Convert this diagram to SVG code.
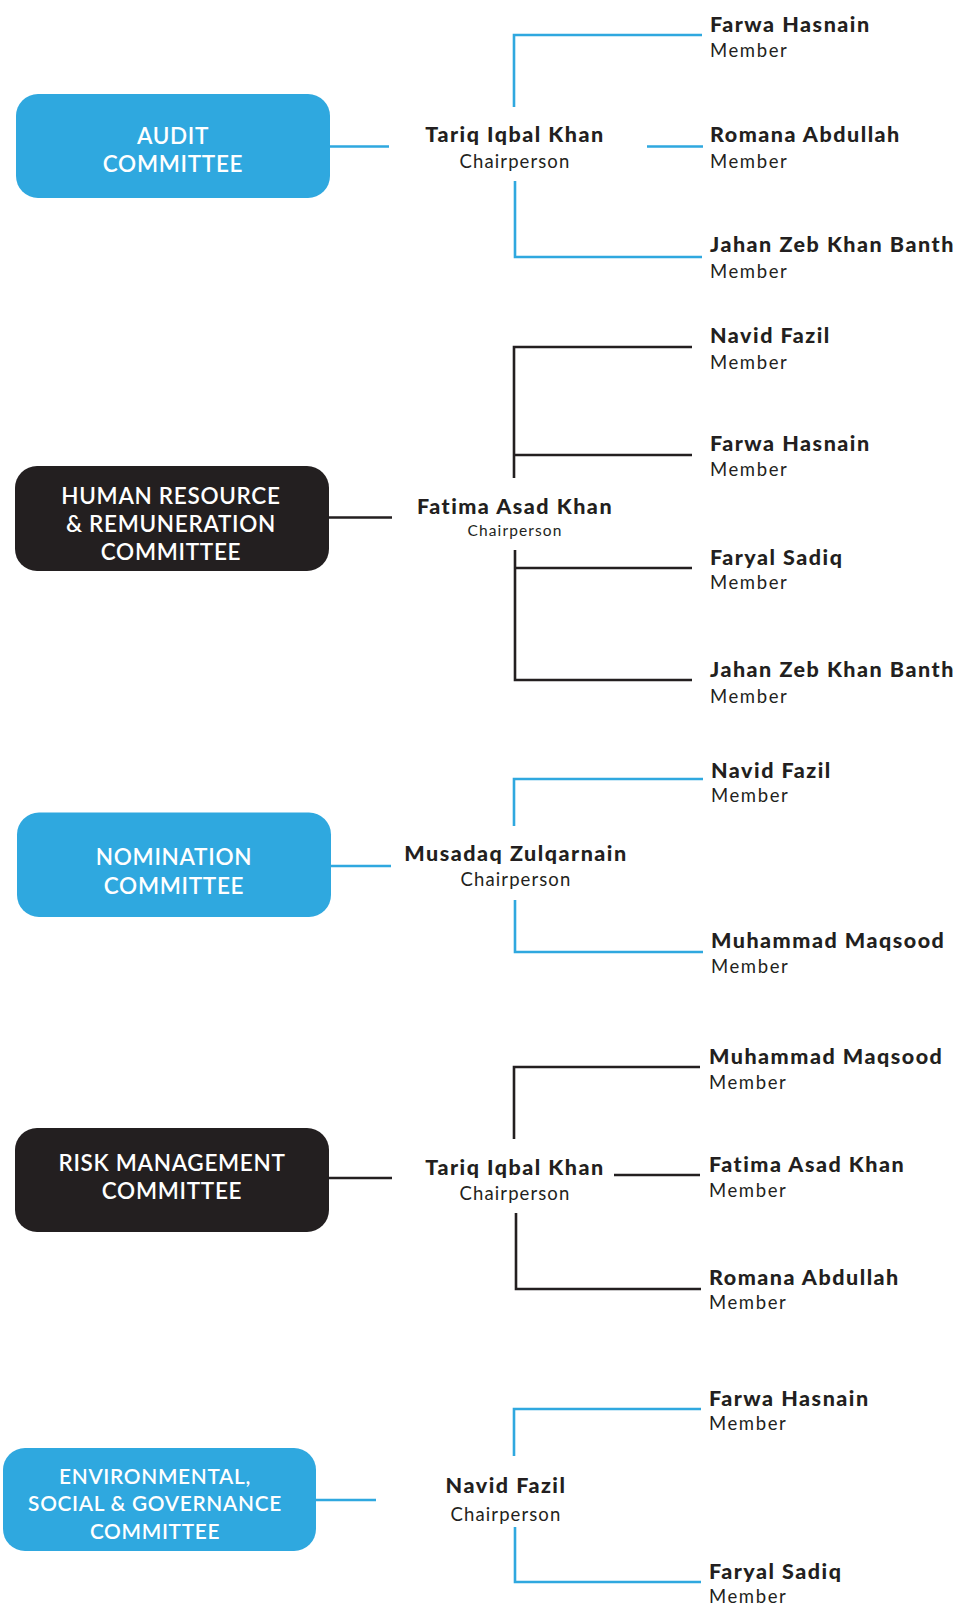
<svg xmlns="http://www.w3.org/2000/svg" width="958" height="1606" viewBox="0 0 958 1606">
<style>
.bb{fill:#2fa8df}
.bk{fill:#231f20}
.bt{font-family:Lato,"Liberation Sans",sans-serif;font-size:22.5px;font-weight:600;fill:#fff;text-anchor:middle;letter-spacing:0.7px}
.bs{font-size:20.8px;letter-spacing:0.7px}
.nm{font-family:Lato,"Liberation Sans",sans-serif;font-size:21.5px;font-weight:900;fill:#231f20;letter-spacing:1.5px}
.rl{font-family:Lato,"Liberation Sans",sans-serif;font-size:18.5px;fill:#231f20;letter-spacing:1.1px}
.m{letter-spacing:1.6px}
.c{text-anchor:middle}
.lb{fill:none;stroke:#2fa8df;stroke-width:2.6}
.lk{fill:none;stroke:#231f20;stroke-width:2.6}
</style>
<rect width="958" height="1606" fill="#fff"/>
<g id="connectors">
<path class="lb" d="M330 146.5H389M514 107V35H702M647 146.5H703M515 181V257H702"/>
<path class="lk" d="M329 517.5H392M514 478V347H692M514 455H692M515 550V680H692M515 568H692"/>
<path class="lb" d="M331 866H391M514 826V779H703M515 900V952H703"/>
<path class="lk" d="M329 1178H392M514 1139V1067H700M614 1175H700M516 1213V1289H701"/>
<path class="lb" d="M316 1500H376M514 1456V1409H701M515 1527V1582H701"/>
</g>
<g id="audit">
<rect class="bb" x="16" y="94" width="314" height="104" rx="22"/>
<text class="bt" x="173" y="143.5">AUDIT</text>
<text class="bt" x="173" y="172">COMMITTEE</text>
</g>
<g id="audit-chair">
<text class="nm c" x="515" y="142.4">Tariq Iqbal Khan</text>
<text class="rl c" x="515" y="168">Chairperson</text>
</g>
<g id="audit-m1"><text class="nm" x="710" y="31.8">Farwa Hasnain</text><text class="rl m" x="710" y="57.4">Member</text></g>
<g id="audit-m2"><text class="nm" x="710" y="142.4">Romana Abdullah</text><text class="rl m" x="710" y="168">Member</text></g>
<g id="audit-m3"><text class="nm" x="710" y="252">Jahan Zeb Khan Banth</text><text class="rl m" x="710" y="277.7">Member</text></g>

<g id="hr">
<rect class="bk" x="15" y="466" width="314" height="105" rx="22"/>
<text class="bt" x="171" y="504">HUMAN RESOURCE</text>
<text class="bt" x="171" y="532">&amp; REMUNERATION</text>
<text class="bt" x="171" y="560">COMMITTEE</text>
</g>
<g id="hr-chair">
<text class="nm c" x="515" y="514">Fatima Asad Khan</text>
<text class="rl c" x="515" y="536" style="font-size:15.5px">Chairperson</text>
</g>
<g id="hr-m1"><text class="nm" x="710" y="343">Navid Fazil</text><text class="rl m" x="710" y="369">Member</text></g>
<g id="hr-m2"><text class="nm" x="710" y="451">Farwa Hasnain</text><text class="rl m" x="710" y="476">Member</text></g>
<g id="hr-m3"><text class="nm" x="710" y="564.5">Faryal Sadiq</text><text class="rl m" x="710" y="589">Member</text></g>
<g id="hr-m4"><text class="nm" x="710" y="677">Jahan Zeb Khan Banth</text><text class="rl m" x="710" y="703">Member</text></g>

<g id="nomination">
<rect class="bb" x="17" y="812.5" width="314" height="104.5" rx="22"/>
<text class="bt" x="174" y="865">NOMINATION</text>
<text class="bt" x="174" y="893.5">COMMITTEE</text>
</g>
<g id="nom-chair">
<text class="nm c" x="516" y="860.6">Musadaq Zulqarnain</text>
<text class="rl c" x="516" y="886">Chairperson</text>
</g>
<g id="nom-m1"><text class="nm" x="711" y="777.7">Navid Fazil</text><text class="rl m" x="711" y="802">Member</text></g>
<g id="nom-m2"><text class="nm" x="711" y="948">Muhammad Maqsood</text><text class="rl m" x="711" y="973">Member</text></g>

<g id="risk">
<rect class="bk" x="15" y="1128" width="314" height="104" rx="22"/>
<text class="bt" x="172" y="1171">RISK MANAGEMENT</text>
<text class="bt" x="172" y="1199">COMMITTEE</text>
</g>
<g id="risk-chair">
<text class="nm c" x="515" y="1175">Tariq Iqbal Khan</text>
<text class="rl c" x="515" y="1200">Chairperson</text>
</g>
<g id="risk-m1"><text class="nm" x="709" y="1063.5">Muhammad Maqsood</text><text class="rl m" x="709" y="1089">Member</text></g>
<g id="risk-m2"><text class="nm" x="709" y="1172">Fatima Asad Khan</text><text class="rl m" x="709" y="1197">Member</text></g>
<g id="risk-m3"><text class="nm" x="709" y="1285">Romana Abdullah</text><text class="rl m" x="709" y="1309">Member</text></g>

<g id="esg">
<rect class="bb" x="3" y="1448" width="313" height="103" rx="22"/>
<text class="bt bs" x="155" y="1483.6">ENVIRONMENTAL,</text>
<text class="bt bs" x="155" y="1511">SOCIAL &amp; GOVERNANCE</text>
<text class="bt bs" x="155" y="1539">COMMITTEE</text>
</g>
<g id="esg-chair">
<text class="nm c" x="506" y="1493">Navid Fazil</text>
<text class="rl c" x="506" y="1520.5">Chairperson</text>
</g>
<g id="esg-m1"><text class="nm" x="709" y="1406">Farwa Hasnain</text><text class="rl m" x="709" y="1430">Member</text></g>
<g id="esg-m2"><text class="nm" x="709" y="1579">Faryal Sadiq</text><text class="rl m" x="709" y="1602.5">Member</text></g>
</svg>
